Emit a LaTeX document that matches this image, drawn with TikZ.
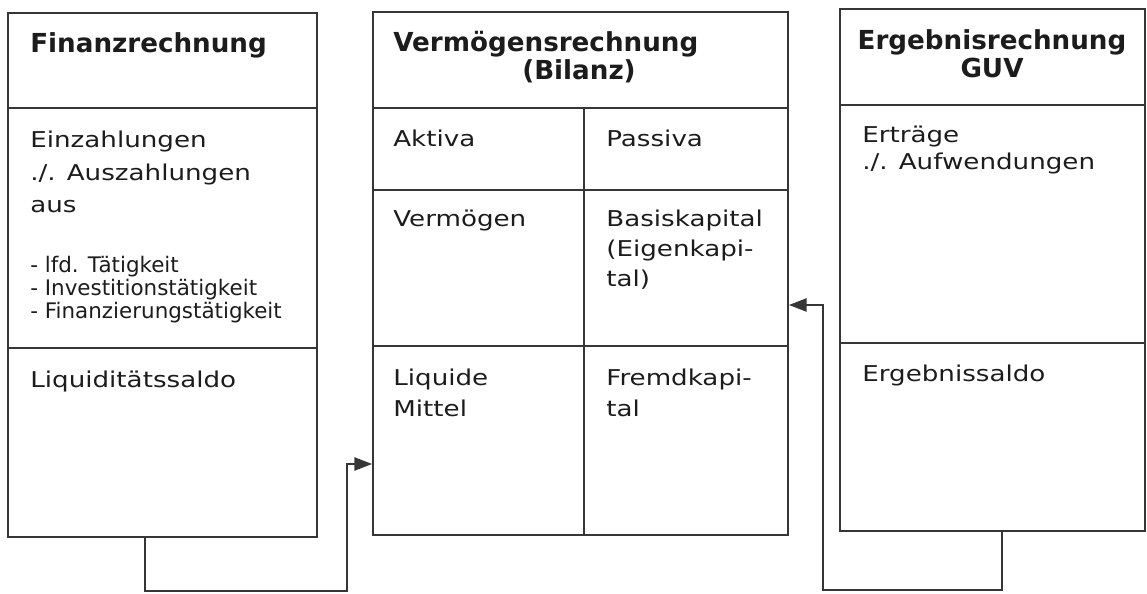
\documentclass[tikz,border=0pt]{standalone}
\usepackage{fontspec}
\setmainfont{DejaVu Sans}
\newfontfamily\bodyfont[FakeStretch=1.2]{DejaVu Sans}
\newfontfamily\listfont{DejaVu Sans}
\usetikzlibrary{arrows.meta,fit}
\definecolor{linegray}{HTML}{363636}
\definecolor{inkgray}{HTML}{1C1C1C}

\begin{document}
\begin{tikzpicture}[x=0.02cm,y=-0.02cm,
        >={Triangle[length=10pt,width=7.5pt]},
        frame/.style={draw=linegray,line width=1.1pt,inner sep=0pt},
        rule/.style={draw=linegray,line width=1.1pt},
        conn/.style={draw=linegray,line width=0.9pt},
        head/.style={font=\fontsize{14.9}{16}\selectfont\bfseries,text=inkgray,inner sep=0pt,anchor=base west,align=left},
        body/.style={font=\bodyfont\fontsize{12.4}{#1}\selectfont,text=inkgray,inner sep=0pt,anchor=base west,align=left},
        body/.default=18.5,
        listing/.style={font=\listfont\fontsize{12.2}{13.1}\selectfont,text=inkgray,inner sep=0pt,anchor=base west,align=left}]
            \useasboundingbox (0,0) rectangle (1147,594);
            \node[frame,fit={(8,13) (317,537)}] (fin) {};
            \node[frame,fit={(373,12) (788,535)}] (verm) {};
            \node[frame,fit={(840,9) (1145,531)}] (erg) {};
            \draw[rule] (fin.west |- 0,108) -- (fin.east |- 0,108);
            \draw[rule] (fin.west |- 0,348) -- (fin.east |- 0,348);
            \draw[rule] (verm.west |- 0,108) -- (verm.east |- 0,108);
            \draw[rule] (verm.west |- 0,190) -- (verm.east |- 0,190);
            \draw[rule] (verm.west |- 0,346) -- (verm.east |- 0,346);
            \draw[rule] (584,108) -- (verm.south -| 584,0);
            \draw[rule] (erg.west |- 0,105) -- (erg.east |- 0,105);
            \draw[rule] (erg.west |- 0,343) -- (erg.east |- 0,343);
            \node[head] (finT) at (30,53) {Finanzrechnung};
            \node[body] (finIn) at (30,213) {Einzahlungen\\./. Auszahlungen\\aus};
            \node[listing] (finList) at (30,319) {- lfd. Tätigkeit\\- Investitionstätigkeit\\- Finanzierungstätigkeit};
            \node[body] (finSaldo) at (30,388) {Liquiditätssaldo};
            \node[head] (vermT) at (393,80) {Vermögensrechnung\\\hspace*{2.58cm}(Bilanz)};
            \node[body] (akt) at (393,147) {Aktiva};
            \node[body] (pas) at (606,147) {Passiva};
            \node[body] (vermA) at (393,227) {Vermögen};
            \node[body=17.1] (ek) at (606,287) {Basiskapital\\(Eigenkapi-\\tal)};
            \node[body=18.2] (lm) at (393,417) {Liquide\\Mittel};
            \node[body=18.2] (fk) at (606,417) {Fremdkapi-\\tal};
            \node[head,anchor=base,align=center] (ergT) at (992,78) {Ergebnisrechnung\\GUV};
            \node[body=15.9] (ertr) at (862,170) {Erträge\\./. Aufwendungen};
            \node[body] (ergSaldo) at (862,382) {Ergebnissaldo};
            \draw[conn,->] (fin.south -| 145,0) |- (347,591) |- (verm.west |- 0,464);
            \draw[conn,->] (erg.south -| 1002,0) |- (823,590) |- (verm.east |- 0,305);
        \end{tikzpicture}
\end{document}
